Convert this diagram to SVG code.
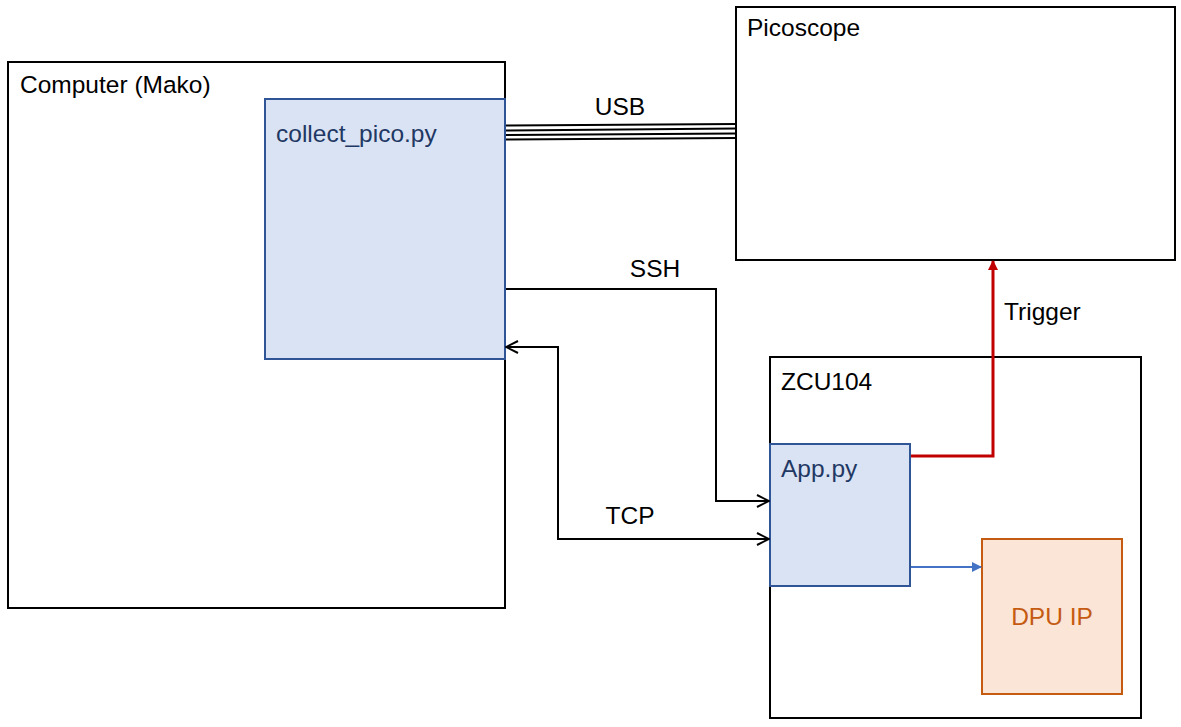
<svg xmlns="http://www.w3.org/2000/svg" width="1181" height="727" viewBox="0 0 1181 727">
<style>
text{font-family:"Liberation Sans",Arial,sans-serif;font-size:24.5px;fill:#000}
.box{fill:#fff;stroke:#000;stroke-width:2}
.sw{fill:#dae3f3;stroke:#2f5597;stroke-width:2}
.swt{fill:#1f3864}
.ip{fill:#fbe5d6;stroke:#c55a11;stroke-width:2}
.ipt{fill:#c55a11}
.conn{fill:none;stroke:#000;stroke-width:2}
</style>
<defs>
<marker id="open" viewBox="0 0 14 14" refX="13" refY="7" markerWidth="14" markerHeight="14" markerUnits="userSpaceOnUse" orient="auto-start-reverse">
<path d="M1,1 L13,7 L1,13" fill="none" stroke="#000" stroke-width="2"/>
</marker>
<marker id="red" viewBox="0 0 10 10" refX="9" refY="5" markerWidth="10" markerHeight="10" markerUnits="userSpaceOnUse" orient="auto">
<path d="M0,0 L10,5 L0,10 z" fill="#c00000"/>
</marker>
<marker id="blue" viewBox="0 0 10 10" refX="9" refY="5" markerWidth="10" markerHeight="10" markerUnits="userSpaceOnUse" orient="auto">
<path d="M0,0 L10,5 L0,10 z" fill="#4472c4"/>
</marker>
</defs>
<g id="computer">
<rect class="box" x="8" y="62" width="497" height="546"/>
<text x="20" y="93">Computer (Mako)</text>
</g>
<g id="collect_pico">
<rect class="sw" x="265" y="99" width="240" height="260"/>
<text class="swt" x="276" y="142">collect_pico.py</text>
</g>
<g id="picoscope">
<rect class="box" x="736" y="7" width="439" height="253"/>
<text x="747" y="36">Picoscope</text>
</g>
<g id="zcu104">
<rect class="box" x="770" y="357" width="371" height="361"/>
<text x="781" y="390">ZCU104</text>
</g>
<g id="app">
<rect class="sw" x="770" y="444" width="140" height="142"/>
<text class="swt" x="781" y="477">App.py</text>
</g>
<g id="dpu">
<rect class="ip" x="982" y="539" width="140" height="155"/>
<text class="ipt" x="1052" y="625" text-anchor="middle">DPU IP</text>
</g>
<g id="connectors">
<g stroke="#000" stroke-width="2">
<line x1="506" y1="125.5" x2="736" y2="124"/>
<line x1="506" y1="130.5" x2="736" y2="128.5"/>
<line x1="506" y1="135" x2="736" y2="133.5"/>
<line x1="506" y1="139.5" x2="736" y2="138"/>
</g>
<text x="620" y="115" text-anchor="middle">USB</text>
<polyline class="conn" points="506,289 716,289 716,501 769,501" marker-end="url(#open)"/>
<text x="655" y="277" text-anchor="middle">SSH</text>
<polyline class="conn" points="769,539 558,539 558,347 506,347" marker-start="url(#open)" marker-end="url(#open)"/>
<text x="630" y="524" text-anchor="middle">TCP</text>
<polyline points="911,456 993,456 993,261" fill="none" stroke="#c00000" stroke-width="3" marker-end="url(#red)"/>
<text x="1004" y="320">Trigger</text>
<line x1="911" y1="567" x2="981" y2="567" stroke="#4472c4" stroke-width="2" marker-end="url(#blue)"/>
</g>
</svg>
